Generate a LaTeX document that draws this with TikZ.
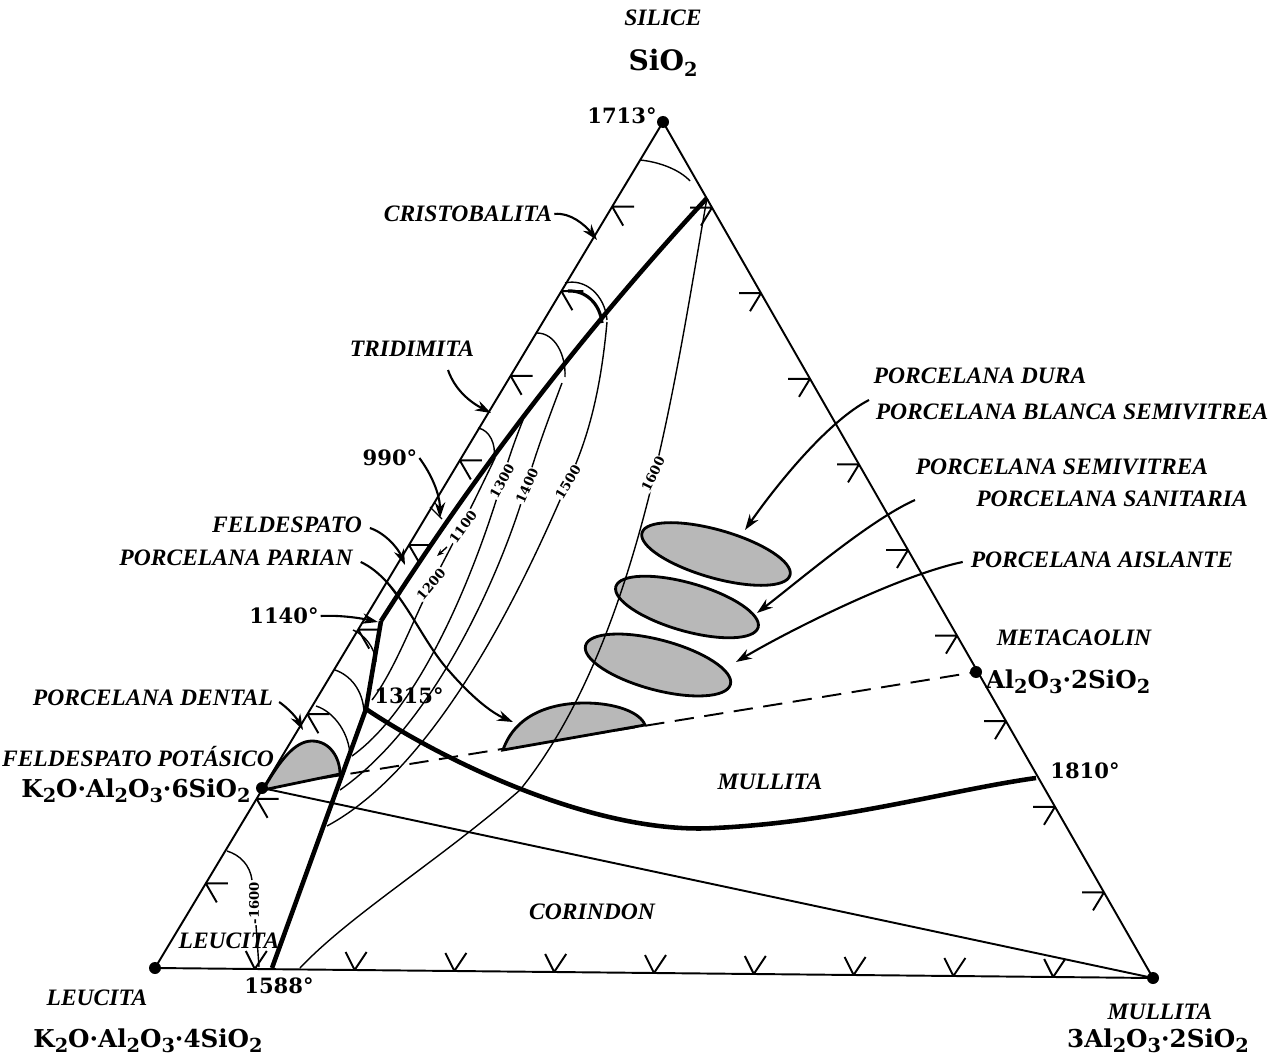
\documentclass[tikz,border=0pt]{standalone}
\usepackage{fontspec}
\setmainfont{Liberation Serif}
\newfontfamily\cifras{DejaVu Serif}
\usetikzlibrary{calc}
\usetikzlibrary{arrows.meta}

\newcommand{\subi}[1]{\raisebox{-0.4ex}{\fontsize{11}{11}\selectfont #1}}

\tikzset{
    lado/.style={line width=1.1pt},
    limite/.style={line width=2.6pt},
    isoterma/.style={line width=0.8pt},
    flecha/.style={line width=1.2pt, -{Stealth[length=9pt, width=6pt]}},
    muestra/.style={fill=black!28, draw=black, line width=1.6pt},
    lbl/.style={font=\fontsize{13.4}{14}\selectfont\bfseries\itshape, inner sep=1pt},
    num/.style={font=\cifras\bfseries\fontsize{12}{13}\selectfont, inner sep=1pt},
    form/.style={font=\cifras\bfseries\fontsize{14}{15}\selectfont, inner sep=1pt},
    iso/.style={font=\cifras\bfseries\fontsize{7.5}{8}\selectfont, fill=white, inner sep=0.4pt},
}

\begin{document}
\begin{tikzpicture}[x=0.02cm, y=-0.02cm]
    \useasboundingbox (0, 0) rectangle (1286, 1061);

    % vertices y puntos
    \coordinate (S) at (663, 122);
    \coordinate (L) at (155, 968);
    \coordinate (M) at (1153, 978);
    \coordinate (K) at (262, 788);
    \coordinate (Mk) at (976, 672);
    \coordinate (T1810) at (1036, 778);
    \coordinate (Ptop) at (707, 198);
    \coordinate (P1140) at (381, 621);
    \coordinate (P1315) at (366, 709);
    \coordinate (P1588) at (272, 968);

    % triangulo
    \draw[lado] (S) -- (L) -- (M) -- cycle;
    \draw[lado] (K) -- (M);
    \draw[lado, dash pattern=on 11pt off 6pt] (K) -- (Mk);

    % flechas de los lados
    \foreach \t in {0.1, 0.2, 0.3, 0.4, 0.5, 0.6, 0.7, 0.8, 0.9} {
        \draw[lado] ($(S)!\t!(M)$) -- ++(-22, 0) ($(S)!\t!(M)$) -- ++(-11, 18);
        \draw[lado] ($(S)!\t!(L)$) -- ++(22, 0) ($(S)!\t!(L)$) -- ++(11, 19);
        \draw[lado] ($(L)!\t!(M)$) -- ++(-9, -18) ($(L)!\t!(M)$) -- ++(12, -18);
    }

    % muestras de porcelana
    \filldraw[muestra, rotate around={-16:(716, 554)}] (716, 554) ellipse (77 and 24);
    \filldraw[muestra, rotate around={-16:(687, 607)}] (687, 607) ellipse (74 and 24);
    \filldraw[muestra, rotate around={-15:(658, 665)}] (658, 665) ellipse (75 and 25);
    \filldraw[muestra] (503, 750) .. controls (515, 715) and (550, 703) .. (585, 703)
        .. controls (615, 703) and (640, 712) .. (645, 725) -- cycle;
    \filldraw[muestra] (263, 790) .. controls (280, 760) and (295, 741) .. (312, 741)
        .. controls (330, 741) and (340, 758) .. (340, 774) -- cycle;

    % limites de campo
    \draw[limite] (Ptop) .. controls (586, 329) and (477, 470) .. (P1140);
    \draw[limite] (P1140) -- (P1315) -- (P1588);
    \draw[limite] (P1315) .. controls (450, 765) and (600, 835) .. (715, 828)
        .. controls (840, 822) and (950, 790) .. (T1810);

    % isotermas
    \draw[isoterma] (640, 160) .. controls (660, 162) and (680, 170) .. (690, 181);
    \draw[isoterma] (565, 283) .. controls (585, 278) and (605, 295) .. (607, 320);
    \draw[line width=1.8pt] (568, 291) .. controls (585, 290) and (600, 303) .. (602, 323);
    \draw[isoterma] (537, 333) .. controls (555, 333) and (566, 355) .. (565, 377);
    \draw[isoterma] (478, 428) .. controls (490, 430) and (496, 445) .. (494, 457);
    \draw[isoterma] (430, 507) -- (442, 519);
    \draw[isoterma] (386, 581) -- (398, 597);
    \draw[isoterma] (353, 630) .. controls (365, 635) and (375, 648) .. (376, 662);
    \draw[isoterma] (335, 670) .. controls (350, 675) and (363, 690) .. (364, 712);
    \draw[isoterma] (316, 706) .. controls (335, 712) and (350, 735) .. (350, 757);
    \draw[isoterma] (227, 851) .. controls (240, 855) and (250, 865) .. (252, 880);
    \draw[isoterma] (256, 925) -- (259, 967);
    \draw[isoterma] (Ptop) .. controls (675, 380) and (640, 640) .. (520, 790)
        .. controls (440, 860) and (350, 915) .. (300, 968);
    \draw[isoterma] (495, 458) .. controls (470, 510) and (450, 550) .. (433, 581)
        .. controls (415, 615) and (395, 670) .. (372, 700);
    \draw[isoterma] (523, 420) .. controls (515, 440) and (508, 460) .. (502, 481)
        .. controls (485, 540) and (430, 700) .. (352, 756);
    \draw[isoterma] (562, 383) .. controls (548, 420) and (535, 455) .. (526, 487)
        .. controls (505, 560) and (440, 720) .. (340, 790);
    \draw[isoterma] (607, 322) .. controls (600, 400) and (585, 445) .. (568, 482)
        .. controls (540, 545) and (450, 760) .. (327, 826);
    \draw[isoterma, -{Stealth[length=4pt, width=3pt]}] (447, 547) -- (437, 556);

    \node[iso, rotate=50] (i1200) at (431, 584) {1200};
    \node[iso, rotate=54] (i1100) at (463, 527) {1100};
    \node[iso, rotate=61] (i1300) at (502, 481) {1300};
    \node[iso, rotate=66] (i1400) at (527, 486) {1400};
    \node[iso, rotate=59] (i1500) at (568, 482) {1500};
    \node[iso, rotate=64] (i1600) at (653, 474) {1600};
    \node[iso, rotate=90] (i1600b) at (254, 903) {-1600};

    % puntos
    \foreach \p in {S, L, M, K, Mk} {
        \fill (\p) circle (6);
    }

    % rotulos
    \node[lbl] (silice) at (663, 18) {SILICE};
    \node[form, font=\cifras\bfseries\fontsize{16}{17}\selectfont] (sio2) at (663, 63) {SiO\subi{2}};
    \node[num] (t1713) at (622, 116) {1713°};
    \node[lbl] (cristo) at (468, 214) {CRISTOBALITA};
    \node[lbl] (tridi) at (412, 349) {TRIDIMITA};
    \node[num] (t990) at (390, 458) {990°};
    \node[lbl] (felde) at (287, 525) {FELDESPATO};
    \node[lbl] (parian) at (236, 558) {PORCELANA PARIAN};
    \node[num] (t1140) at (284, 616) {1140°};
    \node[lbl] (dental) at (153, 698) {PORCELANA DENTAL};
    \node[num] (t1315) at (409, 696) {1315°};
    \node[lbl] (potas) at (138, 757) {FELDESPATO POTÁSICO};
    \node[form] (fpot) at (136, 791) {K\subi{2}O·Al\subi{2}O\subi{3}·6SiO\subi{2}};
    \node[lbl] (leuc) at (229, 941) {LEUCITA};
    \node[num] (t1588) at (279, 986) {1588°};
    \node[lbl] (leucb) at (97, 998) {LEUCITA};
    \node[form] (fleuc) at (148, 1041) {K\subi{2}O·Al\subi{2}O\subi{3}·4SiO\subi{2}};
    \node[lbl] (corin) at (592, 912) {CORINDON};
    \node[lbl] (mull) at (770, 782) {MULLITA};
    \node[lbl] (mullb) at (1160, 1012) {MULLITA};
    \node[form] (fmull) at (1158, 1041) {3Al\subi{2}O\subi{3}·2SiO\subi{2}};
    \node[num] (t1810) at (1085, 771) {1810°};
    \node[lbl] (meta) at (1074, 638) {METACAOLIN};
    \node[form] (fmeta) at (1068, 682) {Al\subi{2}O\subi{3}·2SiO\subi{2}};
    \node[lbl] (dura) at (980, 376) {PORCELANA DURA};
    \node[lbl] (blanca) at (1072, 412) {PORCELANA BLANCA SEMIVITREA};
    \node[lbl] (semi) at (1062, 467) {PORCELANA SEMIVITREA};
    \node[lbl] (sanit) at (1112, 499) {PORCELANA SANITARIA};
    \node[lbl] (aisl) at (1102, 560) {PORCELANA AISLANTE};

    % flechas de rotulos
    \draw[flecha] (cristo.east) .. controls (570, 212) and (585, 225) .. (597, 240);
    \draw[flecha] (448, 370) .. controls (455, 390) and (470, 402) .. (491, 413);
    \draw[flecha] (t990.east) .. controls (432, 475) and (440, 495) .. (440, 518);
    \draw[flecha] (felde.east) ++(6, 3) .. controls (385, 533) and (398, 548) .. (405, 565);
    \draw[flecha] (parian.east) ++(6, 4) .. controls (400, 580) and (420, 640) .. (450, 672)
        .. controls (470, 695) and (490, 712) .. (513, 722);
    \draw[flecha] (t1140.east) .. controls (340, 615) and (360, 618) .. (378, 622);
    \draw[flecha] (dental.east) ++(4, 4) .. controls (285, 706) and (295, 715) .. (303, 730);
    \draw[flecha] (869, 400) .. controls (830, 420) and (780, 480) .. (745, 530);
    \draw[flecha] (915, 500) .. controls (870, 520) and (800, 580) .. (757, 613);
    \draw[flecha] (aisl.west) ++(-6, 2) .. controls (900, 575) and (790, 630) .. (736, 662);
\end{tikzpicture}
\end{document}
